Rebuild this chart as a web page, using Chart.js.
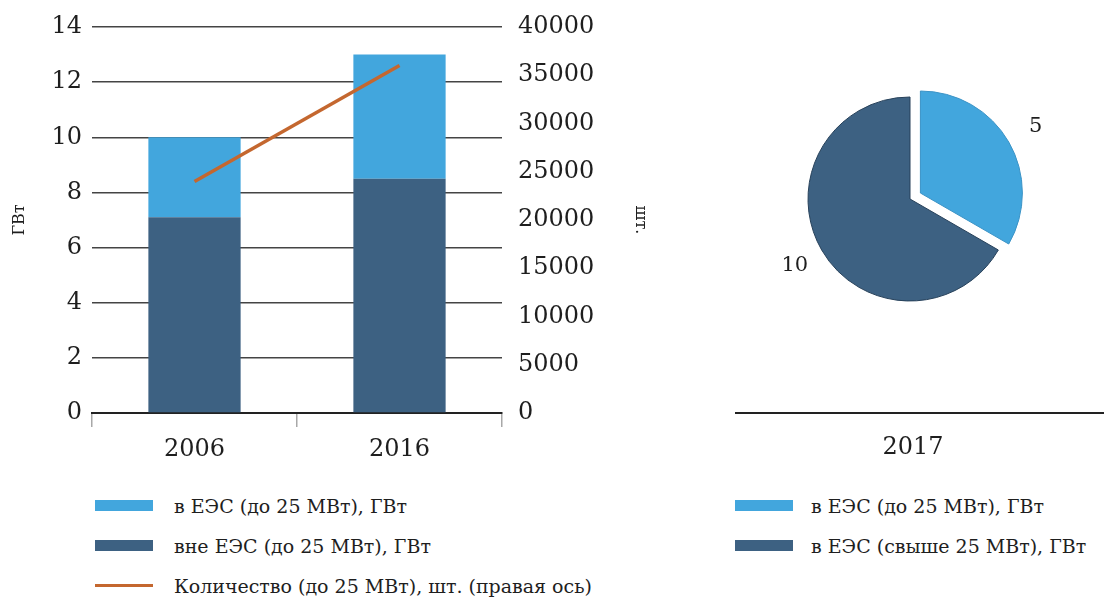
<!DOCTYPE html>
<html lang="ru">
<head>
<meta charset="utf-8">
<title>Мощность и количество электростанций до 25 МВт</title>
<script src="https://cdn.jsdelivr.net/npm/chart.js@4/dist/chart.umd.min.js"></script>
<style>
    body { margin: 0; background: #fff; font-family: 'DejaVu Serif', serif; color: #1e1e1e; }
    .page { position: relative; width: 1104px; height: 602px; overflow: hidden; }
    .box { position: absolute; }
    #barBox { left: 0; top: 0; width: 660px; height: 470px; }
    #pieBox { left: 700px; top: 0; width: 404px; height: 470px; }
    .rule { position: absolute; left: 735px; top: 412px; width: 369px; height: 0; border-top: 2px solid #222; }
    .year { position: absolute; left: 853px; width: 120px; top: 432px; text-align: center; font-size: 24px; }
    .legend { position: absolute; margin: 0; padding: 0; list-style: none; font-size: 19px; }
    .legend li { position: relative; height: 40px; line-height: 20px; white-space: nowrap; }
    .legend .swatch { position: absolute; left: 0; top: 4px; width: 58px; height: 11px; }
    .legend .stroke { position: absolute; left: 0; top: 8px; width: 58px; height: 3px; }
    #barLegend { left: 95px; top: 496px; }
    #barLegend li { padding-left: 79px; }
    #pieLegend { left: 735px; top: 496px; }
    #pieLegend li { padding-left: 76px; }
</style>
</head>
<body>
<div class="page">
    <div class="box" id="barBox"><canvas id="barChart"></canvas></div>
    <div class="box" id="pieBox"><canvas id="pieChart"></canvas></div>
    <div class="rule"></div>
    <div class="year" id="pieYear"></div>
    <ul class="legend" id="barLegend"></ul>
    <ul class="legend" id="pieLegend"></ul>
</div>
<script>
// данные
const years = ['2006', '2016'];
const inUesSmall = [2.9, 4.5];      // в ЕЭС (до 25 МВт), ГВт
const outUesSmall = [7.1, 8.5];     // вне ЕЭС (до 25 МВт), ГВт
const plantCount = [24000, 36000];  // количество, шт.
const gwAxis = [0, 14, 2];          // min, max, шаг
const countAxis = [0, 40000, 5000];

const pieYear = '2017';
const pieLabels = ['в ЕЭС (до 25 МВт), ГВт', 'в ЕЭС (свыше 25 МВт), ГВт'];
const pieValues = [5, 10];

const seriesNames = [
    'в ЕЭС (до 25 МВт), ГВт',
    'вне ЕЭС (до 25 МВт), ГВт',
    'Количество (до 25 МВт), шт. (правая ось)'
];

const LIGHT = '#42a6dd';
const DARK = '#3d6182';
const ORANGE = '#c4672f';

Chart.defaults.font.family = "'DejaVu Serif', serif";
Chart.defaults.color = '#1e1e1e';
Chart.defaults.animation = false;

// фиксированная ширина вертикальной оси без добавочного отступа сверху
function fixedAxis(width) {
    return function (scale) {
        scale.width = width;
        scale.paddingTop = 0;
        scale.paddingBottom = 0;
    };
}

const barChart = new Chart(document.getElementById('barChart'), {
    type: 'bar',
    data: {
        labels: years,
        datasets: [
            {
                label: seriesNames[1],
                data: outUesSmall,
                backgroundColor: DARK,
                yAxisID: 'y',
                order: 1
            },
            {
                label: seriesNames[0],
                data: inUesSmall,
                backgroundColor: LIGHT,
                yAxisID: 'y',
                order: 1
            },
            {
                type: 'line',
                label: seriesNames[2],
                data: plantCount,
                borderColor: ORANGE,
                borderWidth: 3.5,
                pointRadius: 0,
                yAxisID: 'y1',
                order: 0
            }
        ]
    },
    options: {
        responsive: true,
        maintainAspectRatio: false,
        layout: { padding: { top: 27, left: 0, right: 0, bottom: 0 } },
        datasets: { bar: { categoryPercentage: 1, barPercentage: 0.45 } },
        plugins: { legend: { display: false }, tooltip: { enabled: false } },
        scales: {
            x: {
                stacked: true,
                offset: true,
                afterFit(scale) { scale.height = 57; },
                grid: { offset: true, drawOnChartArea: false, drawTicks: true, tickLength: 14, color: '#a8a8a8', lineWidth: 1.5 },
                border: { display: true, color: '#222', width: 2 },
                ticks: { font: { size: 24 }, padding: 8 }
            },
            y: {
                stacked: true,
                position: 'left',
                min: gwAxis[0],
                max: gwAxis[1],
                afterFit: fixedAxis(92),
                grid: { drawTicks: false, color: '#444', lineWidth: 1.5 },
                border: { display: false },
                ticks: { stepSize: gwAxis[2], font: { size: 24 }, padding: 10 },
                title: { display: true, text: 'ГВт', font: { size: 16 }, padding: { top: 10, bottom: 0 } }
            },
            y1: {
                position: 'right',
                min: countAxis[0],
                max: countAxis[1],
                afterFit: fixedAxis(158),
                grid: { drawOnChartArea: false, drawTicks: false },
                border: { display: false },
                ticks: { stepSize: countAxis[2], font: { size: 24 }, padding: 16, callback: v => String(v) },
                title: { display: true, text: 'шт.', font: { size: 16 }, padding: { top: 10, bottom: 0 } }
            }
        }
    }
});

// выдвинутый сектор: сдвигаем центр дуги вдоль биссектрисы, радиус не меняется
const pieExplode = {
    id: 'pieExplode',
    afterDatasetUpdate(chart, args, opts) {
        const shifts = opts.shift || [];
        args.meta.data.forEach((arc, i) => {
            const d = shifts[i] || 0;
            if (!d) return;
            const mid = (arc.startAngle + arc.endAngle) / 2;
            arc.x += Math.cos(mid) * d;
            arc.y += Math.sin(mid) * d;
        });
    }
};

// подписи значений снаружи секторов
const pieValueLabels = {
    id: 'pieValueLabels',
    afterDatasetsDraw(chart) {
        const ctx = chart.ctx;
        const meta = chart.getDatasetMeta(0);
        const values = chart.data.datasets[0].data;
        ctx.save();
        ctx.font = "21px 'DejaVu Serif', serif";
        ctx.fillStyle = '#1e1e1e';
        ctx.textAlign = 'center';
        ctx.textBaseline = 'middle';
        meta.data.forEach((arc, i) => {
            const p = arc.getProps(['x', 'y', 'startAngle', 'endAngle', 'outerRadius'], true);
            const mid = (p.startAngle + p.endAngle) / 2;
            const dist = p.outerRadius + 31;
            ctx.fillText(String(values[i]), p.x + Math.cos(mid) * dist, p.y + Math.sin(mid) * dist);
        });
        ctx.restore();
    }
};

const pieChart = new Chart(document.getElementById('pieChart'), {
    type: 'pie',
    data: {
        labels: pieLabels,
        datasets: [{
            data: pieValues,
            backgroundColor: [LIGHT, DARK],
            borderColor: ['#3b93c6', '#27415a'],
            borderWidth: 1
        }]
    },
    options: {
        responsive: true,
        maintainAspectRatio: false,
        radius: 102,
        layout: { padding: { left: 16, right: 0, top: 0, bottom: 72 } },
        plugins: {
            legend: { display: false },
            tooltip: { enabled: false },
            pieExplode: { shift: [12, 0] }
        }
    },
    plugins: [pieExplode, pieValueLabels]
});

document.getElementById('pieYear').textContent = pieYear;

// легенды
function buildLegend(id, items) {
    const ul = document.getElementById(id);
    items.forEach(item => {
        const li = document.createElement('li');
        const mark = document.createElement('span');
        mark.className = item.line ? 'stroke' : 'swatch';
        mark.style.background = item.color;
        li.appendChild(mark);
        li.appendChild(document.createTextNode(item.text));
        ul.appendChild(li);
    });
}

buildLegend('barLegend', [
    { text: seriesNames[0], color: LIGHT },
    { text: seriesNames[1], color: DARK },
    { text: seriesNames[2], color: ORANGE, line: true }
]);
buildLegend('pieLegend', pieLabels.map((text, i) => ({ text, color: pieChart.data.datasets[0].backgroundColor[i] })));
</script>
</body>
</html>
